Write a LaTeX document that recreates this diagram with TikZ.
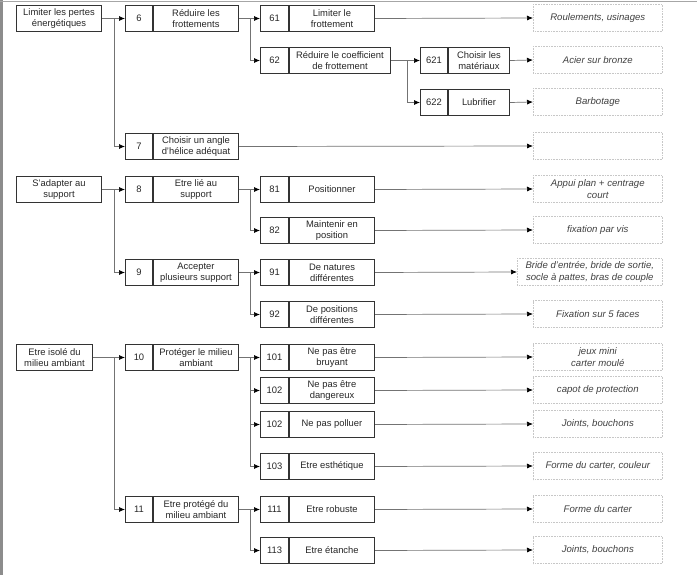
\documentclass[tikz,border=0pt]{standalone}
\usepackage{fontspec}
\setmainfont{Liberation Sans}
\usetikzlibrary{arrows.meta}
\begin{document}
\begin{tikzpicture}[x=1pt,y=-1pt,
  box/.style={draw=black!80, line width=1pt, inner sep=1pt, minimum height=26pt,
    align=center, font=\fontsize{9.4}{10.8}\selectfont, text=black!85, anchor=north west},
  l1box/.style={box, minimum width=85pt},
  numbox/.style={box, minimum width=27pt},
  txtbox/.style={box, minimum width=85pt},
  res/.style={draw=black!22, densely dotted, line width=0.6pt, minimum height=27pt,
    minimum width=129pt, align=center, text=black!75, font=\fontsize{9.6}{11.2}\selectfont\itshape, anchor=west},
  link/.style={draw=black!55, line width=0.7pt},
  arr/.style={link, -{Latex[length=6pt,width=5pt,black]}}]
\newcommand\fbx[7]{%
  \node[numbox, minimum width=#7pt] (n#1) at (#2,#3) {#4};
  \node[txtbox, minimum width=#6pt] (t#1) at (n#1.north east) {#5};}
\useasboundingbox (0,0) rectangle (697,575);
% frame
\fill[black!45] (0,0) rectangle (2.5,575);
\draw[black!35, line width=0.8pt] (0,1) -- (697,1);

% ---------- Group 1
\node[l1box] (l1a) at (16,5) {Limiter les pertes\\énergétiques};
\fbx{6}{125}{5}{6}{Réduire les\\frottements}{85}{27}
\fbx{7}{125}{133}{7}{Choisir un angle\\d'hélice adéquat}{85}{27}
\fbx{61}{260}{5}{61}{Limiter le\\frottement}{85}{28}
\fbx{62}{260}{47}{62}{Réduire le coefficient\\de frottement}{101}{28}
\fbx{621}{420}{47}{621}{Choisir les\\matériaux}{61}{27}
\fbx{622}{420}{89}{622}{Lubrifier}{61}{27}

\node[res] (r61) at (533,18) {Roulements, usinages};
\node[res] (r621) at (533,60) {Acier sur bronze};
\node[res] (r622) at (533,102) {Barbotage};
\node[res] (r7) at (533,146) {};

\draw[arr] (l1a.east) -- (n6.west);
\draw[arr] ([xshift=12pt]l1a.east) |- (n7.west);
\draw[arr] (t6.east) -- (n61.west);
\draw[arr] ([xshift=11pt]t6.east) |- (n62.west);
\draw[arr] (t62.east) -- (n621.west);
\draw[arr] ([xshift=16pt]t62.east) |- (n622.west);
\draw[arr] (t61.east) -- (r61.west);
\draw[arr] (t621.east) -- (r621.west);
\draw[arr] (t622.east) -- (r622.west);
\draw[arr] (t7.east) -- (r7.west);

% ---------- Group 2
\node[l1box] (l1b) at (16,176) {S'adapter au\\support};
\fbx{8}{125}{176}{8}{Etre lié au\\support}{85}{27}
\fbx{9}{125}{259}{9}{Accepter\\plusieurs support}{85}{27}
\fbx{81}{260}{176}{81}{Positionner}{85}{28}
\fbx{82}{260}{217}{82}{Maintenir en\\position}{85}{28}
\fbx{91}{260}{259}{91}{De natures\\différentes}{85}{28}
\fbx{92}{260}{301}{92}{De positions\\différentes}{85}{28}

\node[res] (r81) at (533,189) {Appui plan + centrage\\court};
\node[res] (r82) at (533,230) {fixation par vis};
\node[res, minimum width=145pt] (r91) at (517,272) {Bride d'entrée, bride de sortie,\\socle à pattes, bras de couple};
\node[res] (r92) at (533,314) {Fixation sur 5 faces};

\draw[arr] (l1b.east) -- (n8.west);
\draw[arr] ([xshift=12pt]l1b.east) |- (n9.west);
\draw[arr] (t8.east) -- (n81.west);
\draw[arr] ([xshift=11pt]t8.east) |- (n82.west);
\draw[arr] (t9.east) -- (n91.west);
\draw[arr] ([xshift=11pt]t9.east) |- (n92.west);
\draw[arr] (t81.east) -- (r81.west);
\draw[arr] (t82.east) -- (r82.west);
\draw[arr] (t91.east) -- (r91.west);
\draw[arr] (t92.east) -- (r92.west);

% ---------- Group 3
\node[l1box, minimum width=76pt] (l1c) at (16,344) {Etre isolé du\\milieu ambiant};
\fbx{10}{125}{344}{10}{Protéger le milieu\\ambiant}{85}{27}
\fbx{11}{125}{496}{11}{Etre protégé du\\milieu ambiant}{85}{27}
\fbx{101}{260}{344}{101}{Ne pas être\\bruyant}{85}{28}
\fbx{102a}{260}{377}{102}{Ne pas être\\dangereux}{85}{28}
\fbx{102b}{260}{411}{102}{Ne pas polluer}{85}{28}
\fbx{103}{260}{453}{103}{Etre esthétique}{85}{28}
\fbx{111}{260}{496}{111}{Etre robuste}{85}{28}
\fbx{113}{260}{537}{113}{Etre étanche}{85}{28}

\node[res] (r101) at (533,357) {jeux mini\\carter moulé};
\node[res] (r102a) at (533,390) {capot de protection};
\node[res] (r102b) at (533,424) {Joints, bouchons};
\node[res] (r103) at (533,466) {Forme du carter, couleur};
\node[res] (r111) at (533,509) {Forme du carter};
\node[res] (r113) at (533,550) {Joints, bouchons};

\draw[arr] (l1c.east) -- (n10.west);
\draw[arr] ([xshift=21pt]l1c.east) |- (n11.west);
\draw[arr] (t10.east) -- (n101.west);
\draw[arr] ([xshift=11pt]t10.east) |- (n102a.west);
\draw[arr] ([xshift=11pt]t10.east) |- (n102b.west);
\draw[arr] ([xshift=11pt]t10.east) |- (n103.west);
\draw[arr] (t11.east) -- (n111.west);
\draw[arr] ([xshift=11pt]t11.east) |- (n113.west);
\draw[arr] (t101.east) -- (r101.west);
\draw[arr] (t102a.east) -- (r102a.west);
\draw[arr] (t102b.east) -- (r102b.west);
\draw[arr] (t103.east) -- (r103.west);
\draw[arr] (t111.east) -- (r111.west);
\draw[arr] (t113.east) -- (r113.west);
\end{tikzpicture}
\end{document}
